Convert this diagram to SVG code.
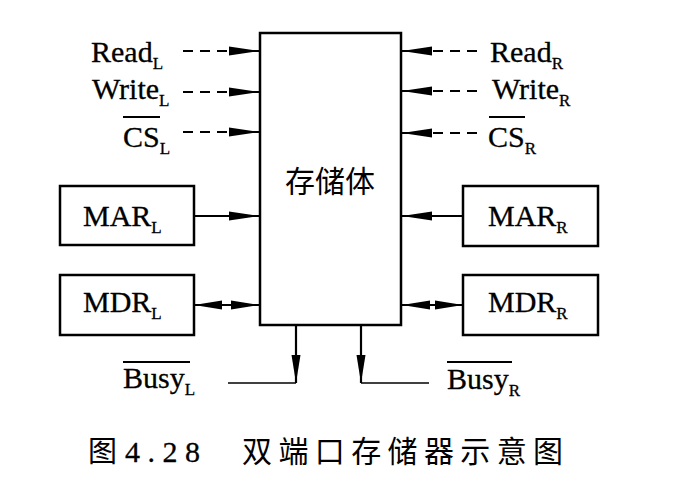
<svg xmlns="http://www.w3.org/2000/svg" width="682" height="500" viewBox="0 0 682 500">
<style>
  .lbl { font-family: "Liberation Serif", "Times New Roman", serif; font-size: 30px; fill: #000; stroke: #000; stroke-width: 0.3; }
  .sub { font-size: 17px; }
  .cjk { font-family: "Noto Sans CJK SC", sans-serif; fill: #000; }
  .box { fill: #fff; stroke: #000; stroke-width: 2.5; }
  .ov { stroke: #000; stroke-width: 2; }
  .ln { stroke: #000; stroke-width: 2.2; fill: none; }
  .dash { stroke-dasharray: 10 7; }
  .thin { stroke: #000; stroke-width: 1.6; fill: none; }
</style>
<defs>
  <marker id="ah" markerUnits="userSpaceOnUse" markerWidth="30" markerHeight="10" viewBox="0 -5 30 10" refX="30" refY="0" orient="auto-start-reverse">
    <path d="M0,-4.5 L30,0 L0,4.5 z" fill="#000" stroke="none"/>
  </marker>
  <marker id="ahs" markerUnits="userSpaceOnUse" markerWidth="28" markerHeight="10" viewBox="0 -5 28 10" refX="28" refY="0" orient="auto-start-reverse">
    <path d="M0,-4.5 L28,0 L0,4.5 z" fill="#000" stroke="none"/>
  </marker>
</defs>
<rect width="682" height="500" fill="#fff"/>

<g id="connectors">
  <line class="ln dash" x1="183" y1="51" x2="259" y2="51" marker-end="url(#ah)"/>
  <line class="ln dash" x1="183" y1="92" x2="259" y2="92" marker-end="url(#ah)"/>
  <line class="ln dash" x1="183" y1="132" x2="259" y2="132" marker-end="url(#ah)"/>
  <line class="ln" x1="194" y1="216" x2="259" y2="216" marker-end="url(#ah)"/>
  <line class="ln" x1="194" y1="305" x2="259" y2="305" marker-start="url(#ahs)" marker-end="url(#ahs)"/>
  <path class="ln" d="M296,325 V383" marker-end="url(#ahs)"/>
  <line class="thin" x1="228" y1="383" x2="296" y2="383"/>

  <line class="ln dash" x1="477" y1="51" x2="402" y2="51" marker-end="url(#ah)"/>
  <line class="ln dash" x1="477" y1="91" x2="402" y2="91" marker-end="url(#ah)"/>
  <line class="ln dash" x1="477" y1="133" x2="402" y2="133" marker-end="url(#ah)"/>
  <line class="ln" x1="463" y1="216" x2="402" y2="216" marker-end="url(#ah)"/>
  <line class="ln" x1="402" y1="305" x2="463" y2="305" marker-start="url(#ahs)" marker-end="url(#ahs)"/>
  <path class="ln" d="M361,325 V383" marker-end="url(#ahs)"/>
  <line class="thin" x1="361" y1="383" x2="429" y2="383"/>
</g>

<g id="memory">
  <rect class="box" x="260" y="33" width="141" height="292"/>
  <text class="cjk" x="330" y="192" font-size="30" text-anchor="middle">存储体</text>
</g>

<g id="MAR_L">
  <rect class="box" x="60" y="186" width="134" height="59"/>
  <text class="lbl" x="83" y="226">MAR<tspan class="sub" dy="7">L</tspan></text>
</g>
<g id="MDR_L">
  <rect class="box" x="60" y="275" width="134" height="60"/>
  <text class="lbl" x="83" y="312">MDR<tspan class="sub" dy="7">L</tspan></text>
</g>
<g id="MAR_R">
  <rect class="box" x="463" y="186" width="135" height="60"/>
  <text class="lbl" x="488" y="226">MAR<tspan class="sub" dy="7">R</tspan></text>
</g>
<g id="MDR_R">
  <rect class="box" x="463" y="275" width="135" height="60"/>
  <text class="lbl" x="488" y="312">MDR<tspan class="sub" dy="7">R</tspan></text>
</g>

<g id="signals-left">
  <text class="lbl" x="91" y="62">Read<tspan class="sub" dy="7">L</tspan></text>
  <text class="lbl" x="92" y="99">Write<tspan class="sub" dy="7">L</tspan></text>
  <text class="lbl" x="123" y="147">CS<tspan class="sub" dy="7">L</tspan></text>
  <line class="ov" x1="123" y1="117" x2="160" y2="117"/>
  <text class="lbl" x="123" y="388">Busy<tspan class="sub" dy="7">L</tspan></text>
  <line class="ov" x1="123" y1="362" x2="190" y2="362"/>
</g>

<g id="signals-right">
  <text class="lbl" x="490" y="62">Read<tspan class="sub" dy="7">R</tspan></text>
  <text class="lbl" x="492" y="99">Write<tspan class="sub" dy="7">R</tspan></text>
  <text class="lbl" x="488" y="147">CS<tspan class="sub" dy="7">R</tspan></text>
  <line class="ov" x1="489" y1="117" x2="525" y2="117"/>
  <text class="lbl" x="447" y="389">Busy<tspan class="sub" dy="7">R</tspan></text>
  <line class="ov" x1="447" y1="362" x2="512" y2="362"/>
</g>

<g id="caption">
  <text class="cjk" x="88" y="462" font-size="29">图</text>
  <text class="lbl" x="125" y="462" font-size="29" textLength="75" lengthAdjust="spacing" stroke-width="0">4.28</text>
  <text class="cjk" x="242" y="462" font-size="30" textLength="321" lengthAdjust="spacing">双端口存储器示意图</text>
</g>
</svg>
